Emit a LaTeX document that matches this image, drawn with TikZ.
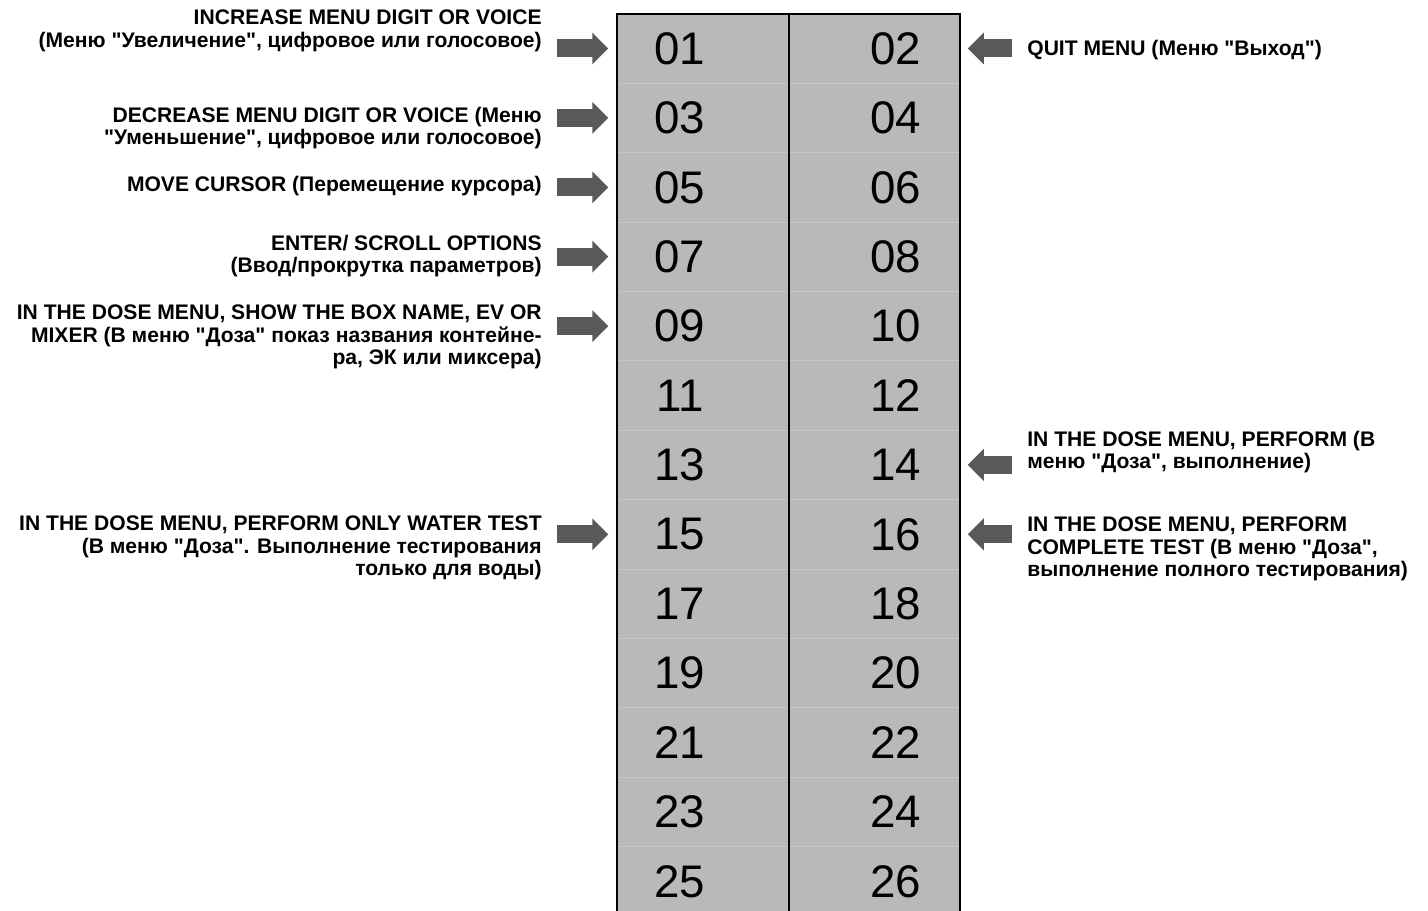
\documentclass[tikz,border=0pt]{standalone}
\usepackage{fontspec}
\setmainfont{Liberation Sans}[Ligatures=TeXOff]
\usetikzlibrary{arrows.meta}

\begin{document}
\begin{tikzpicture}[x=0.02cm, y=-0.02cm,
      key/.style={font=\fontsize{26}{26}\selectfont, inner sep=0pt},
      lbl/.style={font=\bfseries\fontsize{12}{12.8}\selectfont, inner sep=0pt},
      lbll/.style={lbl, anchor=east, align=right},
      lblr/.style={lbl, anchor=west, align=left},
      blk/.style={line width=0.36cm, draw=black!65, -{Triangle[length=0.32cm, width=0.62cm]},
        shorten >=0.92cm, shorten <=0.3cm}
    ]
    \useasboundingbox (0,0) rectangle (1428,911);

    % keypad strip
    \fill[gray!55] (617,14) rectangle (960,911);
    \foreach \r in {0,...,11}
      \draw[black!22, thin] (617,{48.5+69.4*(\r+0.5)}) -- (960,{48.5+69.4*(\r+0.5)});
    \draw[thick] (617,911) -- (617,14) -- (960,14) -- (960,911);
    \draw[thick] (789,14) -- (789,911);

    \foreach \r in {0,...,12} {
      \pgfmathtruncatemacro\a{2*\r+1}
      \pgfmathtruncatemacro\b{2*\r+2}
      \node[key] (k\a) at (680,{48.5+69.4*\r}) {\ifnum\a<10 0\fi\a};
      \node[key] (k\b) at (896,{48.5+69.4*\r}) {\ifnum\b<10 0\fi\b};
    }

    % left labels
    \node[lbll] (l1) at (542,31) {INCREASE MENU DIGIT OR VOICE\\(Меню "Увеличение", цифровое или голосовое)};
    \node[lbll] (l2) at (542,128) {DECREASE MENU DIGIT OR VOICE (Меню\\"Уменьшение", цифровое или голосовое)};
    \node[lbll] (l3) at (542,186) {MOVE CURSOR (Перемещение курсора)};
    \node[lbll] (l4) at (542,256) {ENTER/ SCROLL OPTIONS\\(Ввод/прокрутка параметров)};
    \node[lbll] (l5) at (542,337) {IN THE DOSE MENU, SHOW THE BOX NAME, EV OR\\MIXER (В меню "Доза" показ названия контейне-\\ра, ЭК или миксера)};
    \node[lbll] (l6) at (542,548) {IN THE DOSE MENU, PERFORM ONLY WATER TEST\\(В меню "Доза". Выполнение тестирования\\только для воды)};

    % right labels
    \node[lblr] (r1) at (1027,50) {QUIT MENU (Меню "Выход")};
    \node[lblr] (r2) at (1027,452) {IN THE DOSE MENU, PERFORM (В\\меню "Доза", выполнение)};
    \node[lblr] (r3) at (1027,549) {IN THE DOSE MENU, PERFORM\\COMPLETE TEST (В меню "Доза",\\выполнение полного тестирования)};

    \draw[blk] (k1.west -| l1.east) -- (k1.west);
    \draw[blk] (k3.west -| l2.east) -- (k3.west);
    \draw[blk] (k5.west -| l3.east) -- (k5.west);
    \draw[blk] (k7.west -| l4.east) -- (k7.west);
    \draw[blk] (k9.west -| l5.east) -- (k9.west);
    \draw[blk] (k15.west -| l6.east) -- (k15.west);
    \draw[blk] (k2.east -| r1.west) -- (k2.east);
    \draw[blk] (k14.east -| r2.west) -- (k14.east);
    \draw[blk] (k16.east -| r3.west) -- (k16.east);
  \end{tikzpicture}
\end{document}
